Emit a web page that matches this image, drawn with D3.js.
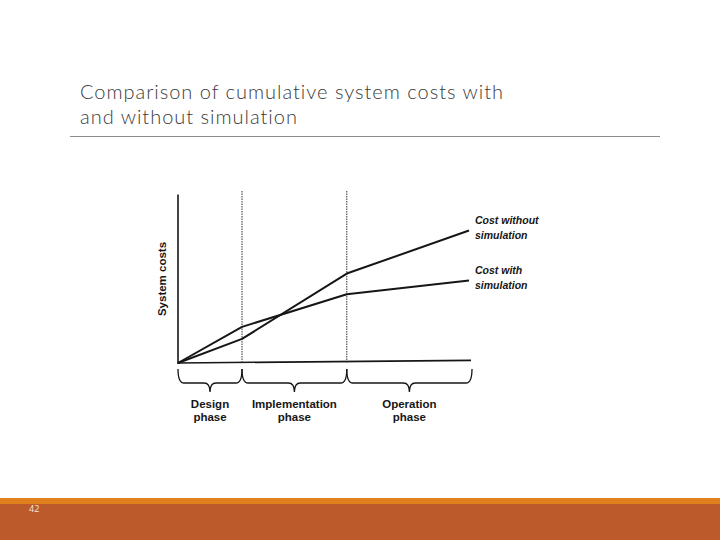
<!DOCTYPE html>
<html><head><meta charset="utf-8">
<script src="https://cdn.jsdelivr.net/npm/d3@7"></script>
<style>html,body{margin:0;padding:0;background:#fff;}svg{display:block;}</style>
</head><body>
<script>
const titleLines = ["Comparison of cumulative system costs with", "and without simulation"];
const timePoints = [0, 2.2, 5.8, 10];
const costWithout = [0, 1.4, 5.2, 7.7];
const costWith = [0, 2.1, 4.0, 4.8];
const phaseBounds = [0, 2.2, 5.8, 10];
const phaseNames = [["Design","phase"],["Implementation","phase"],["Operation","phase"]];
const seriesLabels = [["Cost without","simulation"],["Cost with","simulation"]];
const yLabel = "System costs";
const pageNumber = "42";

const W = 720, H = 540;
const svg = d3.select("body").append("svg").attr("width", W).attr("height", H);

// Title
const title = svg.append("g");
titleLines.forEach((t, i) => {
  title.append("text").attr("x", 80).attr("y", 98.5 + i * 25)
    .attr("font-family", "Lato, 'Open Sans', sans-serif").attr("font-weight", 300)
    .style("font-variant-ligatures", "none")
    .attr("font-size", 20).attr("fill", "#3a3a3a").text(t);
});
// fit width with letter spacing
const t0 = title.select("text").node();
const w0 = t0.getComputedTextLength();
const ls = Math.max(0, (423 - w0) / (titleLines[0].length - 1));
title.selectAll("text").attr("letter-spacing", ls);

svg.append("line").attr("x1", 70).attr("x2", 660).attr("y1", 136.5).attr("y2", 136.5)
  .attr("stroke", "#8c8c8c").attr("stroke-width", 1);

// Chart
const x = d3.scaleLinear().domain([0, 10]).range([178, 469]);
const y = d3.scaleLinear().domain([0, 10]).range([363, 191]);
const ink = "#161616";
const g = svg.append("g");

// axes
g.append("line").attr("x1", x(0)).attr("x2", x(0)).attr("y1", y(9.8)).attr("y2", y(0) + 1)
  .attr("stroke", ink).attr("stroke-width", 1.6);
g.append("line").attr("x1", x(0)).attr("x2", x(10) + 2).attr("y1", y(0)).attr("y2", y(0.15))
  .attr("stroke", ink).attr("stroke-width", 1.6);

// phase dividers
phaseBounds.slice(1, -1).forEach(b => {
  g.append("line").attr("x1", x(b)).attr("x2", x(b)).attr("y1", y(10)).attr("y2", y(0))
    .attr("stroke", "#333").attr("stroke-width", 1).attr("stroke-dasharray", "1.5,1");
});

// series lines
const line = d3.line().x((d, i) => x(timePoints[i])).y(d => y(d));
[costWithout, costWith].forEach(s => {
  g.append("path").attr("d", line(s)).attr("fill", "none").attr("stroke", ink)
    .attr("stroke-width", 2).attr("stroke-linejoin", "round");
});

// series labels
[costWithout, costWith].forEach((s, i) => {
  const ye = y(s[s.length - 1]);
  seriesLabels[i].forEach((t, j) => {
    g.append("text").attr("x", x(10) + 6).attr("y", ye - 6.5 + j * 15)
      .attr("font-family", "'Liberation Sans', Arial, sans-serif").attr("font-style", "italic")
      .attr("font-weight", "bold").attr("font-size", 10.5).attr("fill", ink).text(t);
  });
});

// y label
g.append("text").attr("transform", `translate(${x(0) - 12},${279}) rotate(-90)`)
  .attr("text-anchor", "middle").attr("font-family", "'Liberation Sans', Arial, sans-serif")
  .attr("font-weight", "bold").attr("font-size", 11.5).attr("fill", ink).text(yLabel);

// braces
function brace(x0, x1) {
  const top = 369, mid = 383, tip = 392, m = (x0 + x1) / 2;
  return `M${x0},${top} Q${x0},${mid} ${x0 + 6},${mid} L${m - 6},${mid} Q${m},${mid} ${m},${tip}` +
         ` Q${m},${mid} ${m + 6},${mid} L${x1 - 6},${mid} Q${x1},${mid} ${x1},${top}`;
}
phaseBounds.slice(0, -1).forEach((b, i) => {
  const x0 = x(b), x1 = x(phaseBounds[i + 1]) + (i === 2 ? 3 : 0);
  g.append("path").attr("d", brace(x0, x1)).attr("fill", "none").attr("stroke", ink).attr("stroke-width", 1.3);
  phaseNames[i].forEach((t, j) => {
    g.append("text").attr("x", (x0 + x1) / 2).attr("y", 408 + j * 12.5).attr("text-anchor", "middle")
      .attr("font-family", "'Liberation Sans', Arial, sans-serif").attr("font-weight", "bold")
      .attr("font-size", 11.5).attr("fill", ink).text(t);
  });
});

// footer
svg.append("rect").attr("x", 0).attr("y", 498).attr("width", W).attr("height", 6).attr("fill", "#E0801F");
svg.append("rect").attr("x", 0).attr("y", 504).attr("width", W).attr("height", 36).attr("fill", "#BC5A2B");
svg.append("text").attr("x", 29).attr("y", 511.5).attr("font-family", "'Open Sans', sans-serif")
  .attr("font-size", 9).attr("fill", "#f5e6d8").text(pageNumber);
</script>
</body></html>
